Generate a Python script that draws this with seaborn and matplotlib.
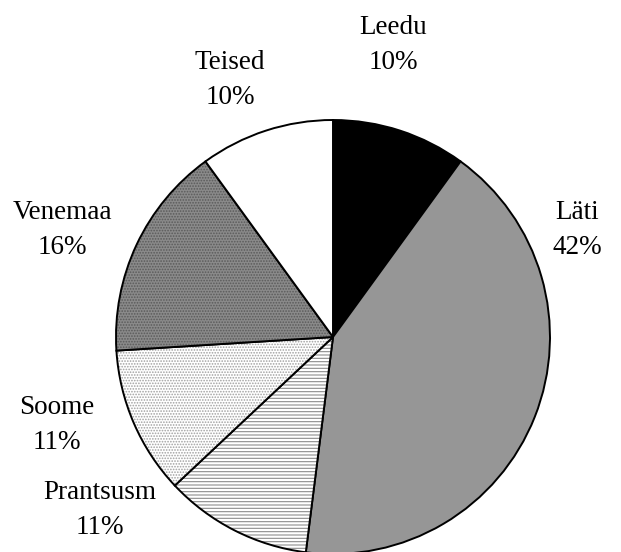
import matplotlib
matplotlib.use("Agg")
import matplotlib.pyplot as plt
import seaborn as sns

sns.set_theme(style="white")
plt.rcParams["font.family"] = ["Liberation Serif", "DejaVu Serif"]
plt.rcParams["hatch.linewidth"] = 0.8

# data
countries = ["Leedu", "Läti", "Prantsusm", "Soome", "Venemaa", "Teised"]
shares = [10, 42, 11, 11, 16, 10]

# styling per slice
faces = ["#000000", "#969696", "#ffffff", "#ffffff", "#8a8a8a", "#ffffff"]
hatches = [None, None, "-----", "......", "......", None]
hatch_cols = ["#000000", "#000000", "#8c8c8c", "#a0a0a0", "#5a5a5a", "#000000"]

# label block centres in figure pixels (x, y from top)
label_pos = [(393, 45), (577, 230), (100, 510), (57, 425), (62, 230), (230, 80)]

W, H = 621, 552
CX, CY, R = 333, 337, 217

fig = plt.figure(figsize=(W / 100, H / 100), dpi=100)
ax = fig.add_axes([0, 0, 1, 1])

wedges, _ = ax.pie(shares, startangle=90, counterclock=False, radius=1,
                   colors=faces,
                   wedgeprops=dict(edgecolor="black", linewidth=1.4))
for w, h, hc in zip(wedges, hatches, hatch_cols):
    if h:
        w.set_hatch(h)
        if hasattr(w, "set_hatchcolor"):
            w.set_hatchcolor(hc)
        else:
            w._hatch_color = matplotlib.colors.to_rgba(hc)

ax.set_xlim(-CX / R, (W - CX) / R)
ax.set_ylim(-(H - CY) / R, CY / R)
ax.set_aspect("auto")
ax.axis("off")

for name, val, (px, py) in zip(countries, shares, label_pos):
    fig.text(px / W, 1 - py / H, f"{name}\n{val}%", ha="center", va="center",
             fontsize=19.5, linespacing=1.5, color="black")

plt.savefig("out.png", dpi=100)
plt.close()
